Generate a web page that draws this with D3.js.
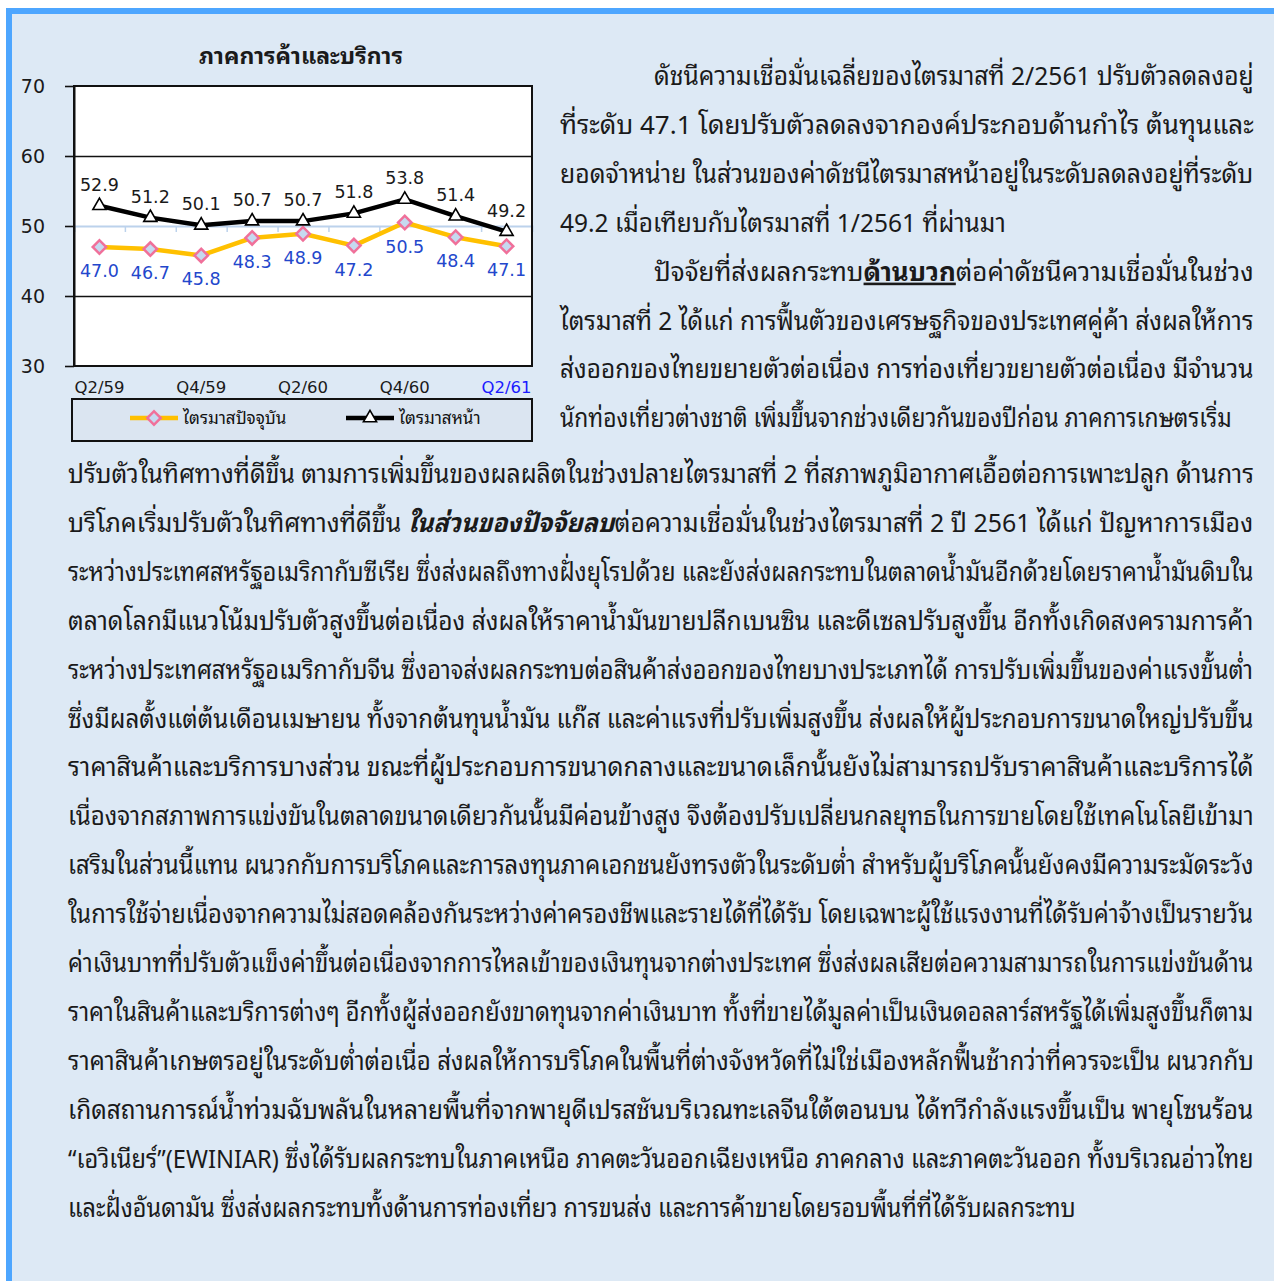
<!DOCTYPE html>
<html>
<head>
<meta charset="utf-8">
<script src="https://cdn.jsdelivr.net/npm/d3@7"></script>
<style>
html, body { margin:0; padding:0; background:#fff; }
svg { display:block; }
</style>
</head>
<body>
<div class="canvas"></div>
<script>
// chart data
const quarters = ['Q2/59','Q3/59','Q4/59','Q1/60','Q2/60','Q3/60','Q4/60','Q1/61','Q2/61'];
const tickLabels = ['Q2/59','Q4/59','Q2/60','Q4/60','Q2/61'];
const currentQ = [47.0, 46.7, 45.8, 48.3, 48.9, 47.2, 50.5, 48.4, 47.1];
const nextQ = [52.9, 51.2, 50.1, 50.7, 50.7, 51.8, 53.8, 51.4, 49.2];
const yTicks = [30, 40, 50, 60, 70];
const seriesNames = ['ไตรมาสปัจจุบัน', 'ไตรมาสหน้า'];
const chartTitle = 'ภาคการค้าและบริการ';

// text beside the chart, then full width
const sideLines = [
  'ดัชนีความเชื่อมั่นเฉลี่ยของไตรมาสที่ 2/2561 ปรับตัวลดลงอยู่',
  'ที่ระดับ 47.1 โดยปรับตัวลดลงจากองค์ประกอบด้านกำไร ต้นทุนและ',
  'ยอดจำหน่าย ในส่วนของค่าดัชนีไตรมาสหน้าอยู่ในระดับลดลงอยู่ที่ระดับ',
  '49.2 เมื่อเทียบกับไตรมาสที่ 1/2561 ที่ผ่านมา',
  'ปัจจัยที่ส่งผลกระทบด้านบวกต่อค่าดัชนีความเชื่อมั่นในช่วง',
  'ไตรมาสที่ 2 ได้แก่ การฟื้นตัวของเศรษฐกิจของประเทศคู่ค้า ส่งผลให้การ',
  'ส่งออกของไทยขยายตัวต่อเนื่อง การท่องเที่ยวขยายตัวต่อเนื่อง มีจำนวน',
  'นักท่องเที่ยวต่างชาติ เพิ่มขึ้นจากช่วงเดียวกันของปีก่อน ภาคการเกษตรเริ่ม'
];
const fullLines = [
  'ปรับตัวในทิศทางที่ดีขึ้น ตามการเพิ่มขึ้นของผลผลิตในช่วงปลายไตรมาสที่ 2 ที่สภาพภูมิอากาศเอื้อต่อการเพาะปลูก ด้านการ',
  'บริโภคเริ่มปรับตัวในทิศทางที่ดีขึ้น ในส่วนของปัจจัยลบต่อความเชื่อมั่นในช่วงไตรมาสที่ 2 ปี 2561 ได้แก่ ปัญหาการเมือง',
  'ระหว่างประเทศสหรัฐอเมริกากับซีเรีย ซึ่งส่งผลถึงทางฝั่งยุโรปด้วย และยังส่งผลกระทบในตลาดน้ำมันอีกด้วยโดยราคาน้ำมันดิบใน',
  'ตลาดโลกมีแนวโน้มปรับตัวสูงขึ้นต่อเนื่อง ส่งผลให้ราคาน้ำมันขายปลีกเบนซิน และดีเซลปรับสูงขึ้น อีกทั้งเกิดสงครามการค้า',
  'ระหว่างประเทศสหรัฐอเมริกากับจีน ซึ่งอาจส่งผลกระทบต่อสินค้าส่งออกของไทยบางประเภทได้ การปรับเพิ่มขึ้นของค่าแรงขั้นต่ำ',
  'ซึ่งมีผลตั้งแต่ต้นเดือนเมษายน ทั้งจากต้นทุนน้ำมัน แก๊ส และค่าแรงที่ปรับเพิ่มสูงขึ้น ส่งผลให้ผู้ประกอบการขนาดใหญ่ปรับขึ้น',
  'ราคาสินค้าและบริการบางส่วน ขณะที่ผู้ประกอบการขนาดกลางและขนาดเล็กนั้นยังไม่สามารถปรับราคาสินค้าและบริการได้',
  'เนื่องจากสภาพการแข่งขันในตลาดขนาดเดียวกันนั้นมีค่อนข้างสูง จึงต้องปรับเปลี่ยนกลยุทธในการขายโดยใช้เทคโนโลยีเข้ามา',
  'เสริมในส่วนนี้แทน ผนวกกับการบริโภคและการลงทุนภาคเอกชนยังทรงตัวในระดับต่ำ สำหรับผู้บริโภคนั้นยังคงมีความระมัดระวัง',
  'ในการใช้จ่ายเนื่องจากความไม่สอดคล้องกันระหว่างค่าครองชีพและรายได้ที่ได้รับ โดยเฉพาะผู้ใช้แรงงานที่ได้รับค่าจ้างเป็นรายวัน',
  'ค่าเงินบาทที่ปรับตัวแข็งค่าขึ้นต่อเนื่องจากการไหลเข้าของเงินทุนจากต่างประเทศ ซึ่งส่งผลเสียต่อความสามารถในการแข่งขันด้าน',
  'ราคาในสินค้าและบริการต่างๆ อีกทั้งผู้ส่งออกยังขาดทุนจากค่าเงินบาท ทั้งที่ขายได้มูลค่าเป็นเงินดอลลาร์สหรัฐได้เพิ่มสูงขึ้นก็ตาม',
  'ราคาสินค้าเกษตรอยู่ในระดับต่ำต่อเนื่อ ส่งผลให้การบริโภคในพื้นที่ต่างจังหวัดที่ไม่ใช่เมืองหลักฟื้นช้ากว่าที่ควรจะเป็น ผนวกกับ',
  'เกิดสถานการณ์น้ำท่วมฉับพลันในหลายพื้นที่จากพายุดีเปรสชันบริเวณทะเลจีนใต้ตอนบน ได้ทวีกำลังแรงขึ้นเป็น พายุโซนร้อน',
  '“เอวิเนียร์”(EWINIAR) ซึ่งได้รับผลกระทบในภาคเหนือ ภาคตะวันออกเฉียงเหนือ ภาคกลาง และภาคตะวันออก ทั้งบริเวณอ่าวไทย',
  'และฝั่งอันดามัน ซึ่งส่งผลกระทบทั้งด้านการท่องเที่ยว การขนส่ง และการค้าขายโดยรอบพื้นที่ที่ได้รับผลกระทบ'
];
const boldUnderline = 'ด้านบวก';
const boldItalic = 'ในส่วนของปัจจัยลบ';

const W = 1274, H = 1281;
const thaiFont = "'Noto Sans Thai Looped','Noto Sans Thai','Noto Sans','Loma','Garuda',sans-serif";
const numFont = "'DejaVu Sans',Verdana,sans-serif";

const svg = d3.select('.canvas')
  .append('svg')
  .attr('width', W)
  .attr('height', H);

// page frame
svg.append('rect').attr('width', W).attr('height', H).attr('fill', '#fff');
svg.append('rect').attr('x', 6).attr('y', 8).attr('width', W - 6).attr('height', H - 8).attr('fill', '#4da6ff');
svg.append('rect').attr('x', 12).attr('y', 14).attr('width', W - 12).attr('height', H - 14).attr('fill', '#dde9f5');

// chart area
const plot = {left:74, right:532, top:86, bottom:366};

const x = d3.scaleBand()
  .domain(quarters)
  .range([plot.left, plot.right]);
const y = d3.scaleLinear()
  .domain([30, 70])
  .range([plot.bottom, plot.top]);
const cx = d => x(d) + x.bandwidth() / 2;

svg.append('text')
  .attr('x', 301).attr('y', 64)
  .attr('text-anchor', 'middle')
  .attr('font-family', thaiFont)
  .attr('font-size', 23)
  .attr('font-weight', 'bold')
  .attr('fill', '#1a1a1a')
  .text(chartTitle);

svg.append('rect')
  .attr('x', plot.left).attr('y', plot.top)
  .attr('width', plot.right - plot.left).attr('height', plot.bottom - plot.top)
  .attr('fill', '#fff');

// gridlines (50 is where the category axis sits)
const grid = svg.append('g').attr('transform', `translate(${plot.left},0)`)
  .call(d3.axisLeft(y).tickValues([40, 60]).tickSize(-(plot.right - plot.left)).tickFormat(''));
grid.select('.domain').remove();
grid.selectAll('line').attr('stroke', '#111').attr('stroke-width', 1.6);

// category axis crossing at 50, ticks between bands
const xEdge = d3.scaleLinear().domain([0, quarters.length]).range([plot.left, plot.right]);
const catAxis = svg.append('g').attr('transform', `translate(0,${y(50)})`)
  .call(d3.axisBottom(xEdge).tickValues(d3.range(1, quarters.length)).tickSize(6).tickFormat(''));
catAxis.select('.domain').attr('stroke', '#bcd2ec').attr('stroke-width', 2);
catAxis.selectAll('line').attr('stroke', '#bcd2ec').attr('stroke-width', 1.5);

// plot border
svg.append('rect')
  .attr('x', plot.left).attr('y', plot.top)
  .attr('width', plot.right - plot.left).attr('height', plot.bottom - plot.top)
  .attr('fill', 'none').attr('stroke', '#111').attr('stroke-width', 2);

// y axis
const yAxisGroup = svg.append('g').attr('transform', `translate(${plot.left},0)`)
  .call(d3.axisLeft(y).tickValues(yTicks).tickSizeInner(9).tickSizeOuter(0).tickPadding(20));
yAxisGroup.select('.domain').attr('stroke', '#111').attr('stroke-width', 2);
yAxisGroup.selectAll('line').attr('stroke', '#111').attr('stroke-width', 1.6);
yAxisGroup.selectAll('text')
  .attr('font-family', numFont).attr('font-size', 19).attr('fill', '#1a1a1a');

// x axis labels
const xAxisGroup = svg.append('g').attr('transform', `translate(0,${plot.bottom})`)
  .call(d3.axisBottom(x).tickValues(tickLabels).tickSize(0).tickPadding(15));
xAxisGroup.select('.domain').remove();
xAxisGroup.selectAll('text')
  .attr('font-family', numFont).attr('font-size', 16.5)
  .attr('fill', d => d === 'Q2/61' ? '#1a1aff' : '#1a1a1a');

// lines
const line = d3.line().x((d, i) => cx(quarters[i])).y(d => y(d));

svg.append('path').datum(currentQ)
  .attr('d', line).attr('fill', 'none')
  .attr('stroke', '#ffc000').attr('stroke-width', 4.5).attr('stroke-linejoin', 'round');
svg.append('path').datum(nextQ)
  .attr('d', line).attr('fill', 'none')
  .attr('stroke', '#000').attr('stroke-width', 4.5).attr('stroke-linejoin', 'round');

const diamond = d3.symbol().type(d3.symbolSquare).size(90);
const triangle = d3.symbol().type(d3.symbolTriangle).size(75);

svg.selectAll('.dia').data(currentQ).enter().append('path')
  .attr('class', 'dia')
  .attr('d', diamond)
  .attr('transform', (d, i) => `translate(${cx(quarters[i])},${y(d)}) rotate(45)`)
  .attr('fill', '#c6d9f0').attr('stroke', '#f0709a').attr('stroke-width', 2.5);

svg.selectAll('.tri').data(nextQ).enter().append('path')
  .attr('class', 'tri')
  .attr('d', triangle)
  .attr('transform', (d, i) => `translate(${cx(quarters[i])},${y(d)})`)
  .attr('fill', '#fff').attr('stroke', '#000').attr('stroke-width', 1.6);

// value labels
svg.selectAll('.lblNext').data(nextQ).enter().append('text')
  .attr('class', 'lblNext')
  .attr('x', (d, i) => cx(quarters[i]))
  .attr('y', d => y(d) - 15)
  .attr('text-anchor', 'middle')
  .attr('font-family', numFont).attr('font-size', 17.5).attr('fill', '#1a1a1a')
  .text(d => d.toFixed(1));

svg.selectAll('.lblCur').data(currentQ).enter().append('text')
  .attr('class', 'lblCur')
  .attr('x', (d, i) => cx(quarters[i]))
  .attr('y', d => y(d) + 30)
  .attr('text-anchor', 'middle')
  .attr('font-family', numFont).attr('font-size', 17.5).attr('fill', '#2347cc')
  .text(d => d.toFixed(1));

// legend
const legend = svg.append('g');
legend.append('rect')
  .attr('x', 72).attr('y', 399).attr('width', 460).attr('height', 42)
  .attr('fill', '#dbe5f1').attr('stroke', '#111').attr('stroke-width', 2);

const legendItems = [
  {name: seriesNames[0], x0: 130, color: '#ffc000', sym: diamond, rot: 45, fill: '#c6d9f0', stroke: '#f0709a', sw: 2.5},
  {name: seriesNames[1], x0: 346, color: '#000', sym: triangle, rot: 0, fill: '#fff', stroke: '#000', sw: 1.6}
];
legendItems.forEach(it => {
  legend.append('line')
    .attr('x1', it.x0).attr('x2', it.x0 + 48).attr('y1', 418).attr('y2', 418)
    .attr('stroke', it.color).attr('stroke-width', 4.5);
  legend.append('path')
    .attr('d', it.sym)
    .attr('transform', `translate(${it.x0 + 24},418) rotate(${it.rot})`)
    .attr('fill', it.fill).attr('stroke', it.stroke).attr('stroke-width', it.sw);
  legend.append('text')
    .attr('x', it.x0 + 53).attr('y', 424)
    .attr('font-family', thaiFont).attr('font-size', 17).attr('fill', '#111')
    .text(it.name);
});

// paragraph text: measure each line, then scale it to the column width
function drawLine(str, x0, x1, base) {
  const t = svg.append('text')
    .attr('x', 0).attr('y', 0)
    .attr('font-family', thaiFont).attr('font-size', 26).attr('fill', '#1a1a1a');
  let parts = [{s: str}];
  [[boldUnderline, 'bu'], [boldItalic, 'bi']].forEach(([phrase, kind]) => {
    const idx = str.indexOf(phrase);
    if (idx >= 0) {
      parts = [
        {s: str.slice(0, idx)},
        {s: phrase, kind},
        {s: str.slice(idx + phrase.length)}
      ];
    }
  });
  parts.forEach(p => {
    if (!p.s) return;
    const ts = t.append('tspan').text(p.s);
    if (p.kind) ts.attr('font-weight', 'bold');
    if (p.kind === 'bu') ts.attr('text-decoration', 'underline');
    if (p.kind === 'bi') ts.attr('font-style', 'italic');
  });
  const w = t.node().getComputedTextLength();
  t.attr('transform', `translate(${x0},${base}) scale(${(x1 - x0) / w},1)`);
}

const step = 48.9;
sideLines.forEach((s, i) => {
  const x0 = (i === 0 || i === 4) ? 654 : 560;
  const x1 = i === 3 ? 1006 : i === 7 ? 1232 : 1254;
  drawLine(s, x0, x1, 85 + i * step);
});
fullLines.forEach((s, i) => {
  const x1 = i === fullLines.length - 1 ? 1076 : 1254;
  drawLine(s, 68, x1, 483 + i * step);
});
</script>
</body>
</html>
